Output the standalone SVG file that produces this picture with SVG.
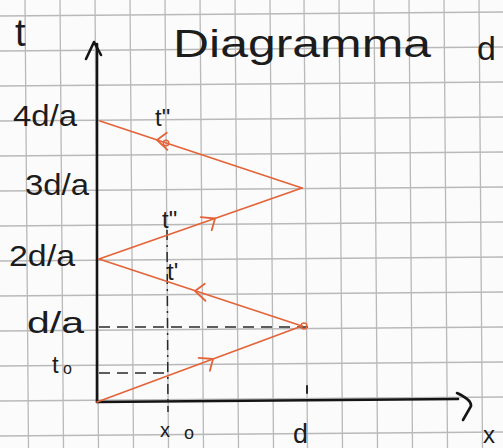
<svg xmlns="http://www.w3.org/2000/svg" width="503" height="448" viewBox="0 0 503 448">
<defs>
<style>
.grid line{stroke:#b9b9b9;stroke-width:1.3}
.ax{stroke:#151515;stroke-width:2.6;fill:none;stroke-linecap:round;stroke-linejoin:round}
.dash{stroke:#2a2a2a;stroke-width:1.5;fill:none;stroke-dasharray:11 7}
.seg{stroke:#e4643a;stroke-width:1.8;fill:none;stroke-linecap:round}
.chev{stroke:#e4643a;stroke-width:1.8;fill:none;stroke-linecap:round;stroke-linejoin:round}
.lbl{font-family:"Liberation Sans","DejaVu Sans",sans-serif;fill:#1c1c1c;font-weight:normal}
</style>
<path id="chev" d="M-13,-6 L0,0 L-7,10"/>
</defs>
<rect width="503" height="448" fill="#fbfbfb"/>
<g class="grid" id="grid">
<line x1="25" y1="0" x2="28.5" y2="448"/>
<line x1="60" y1="0" x2="63.5" y2="448"/>
<line x1="95" y1="0" x2="98.5" y2="448"/>
<line x1="130" y1="0" x2="133.5" y2="448"/>
<line x1="165" y1="0" x2="168.5" y2="448"/>
<line x1="200" y1="0" x2="203.5" y2="448"/>
<line x1="235" y1="0" x2="238.5" y2="448"/>
<line x1="270" y1="0" x2="273.5" y2="448"/>
<line x1="304" y1="0" x2="307.5" y2="448"/>
<line x1="339" y1="0" x2="342.5" y2="448"/>
<line x1="374" y1="0" x2="377.5" y2="448"/>
<line x1="409" y1="0" x2="412.5" y2="448"/>
<line x1="444" y1="0" x2="447.5" y2="448"/>
<line x1="479" y1="0" x2="482.5" y2="448"/>
<line x1="0" y1="16" x2="503" y2="12"/>
<line x1="0" y1="51" x2="503" y2="47"/>
<line x1="0" y1="86" x2="503" y2="82"/>
<line x1="0" y1="121" x2="503" y2="117"/>
<line x1="0" y1="156" x2="503" y2="152"/>
<line x1="0" y1="191" x2="503" y2="187"/>
<line x1="0" y1="226" x2="503" y2="222"/>
<line x1="0" y1="261" x2="503" y2="257"/>
<line x1="0" y1="296" x2="503" y2="292"/>
<line x1="0" y1="331" x2="503" y2="327"/>
<line x1="0" y1="366" x2="503" y2="362"/>
<line x1="0" y1="401" x2="503" y2="397"/>
<line x1="0" y1="436" x2="503" y2="432"/>
</g>
<g id="axes">
<path class="ax" d="M97,402 L97,44"/>
<path class="ax" d="M86,59 L94,42 L101,55"/>
<path class="ax" d="M97,402 L458,399"/>
<path class="ax" d="M457,393 Q472,400 471,406 L463,420"/>
<path class="ax" d="M307,386 L307,393" style="stroke-width:1.8"/>
</g>
<g id="guides">
<path class="dash" d="M99,327 L312,327"/>
<path class="dash" d="M99,373 L167,373"/>
<path class="dash" d="M167,230 L168,412" style="stroke-dasharray:10 5 2 5"/>
</g>
<g id="connectors">
<path class="seg" d="M97,402 L302,326"/>
<path class="seg" d="M302,326 L99,259"/>
<path class="seg" d="M99,259 L302,188"/>
<path class="seg" d="M302,188 L100,121"/>
<use href="#chev" class="chev" transform="translate(213,359) rotate(-20.3)"/>
<use href="#chev" class="chev" transform="translate(195,291) rotate(198.3)"/>
<use href="#chev" class="chev" transform="translate(215,218.5) rotate(-19.3)"/>
<use href="#chev" class="chev" transform="translate(157,140) rotate(198.4)"/>
<circle cx="166" cy="143" r="2.8" fill="none" stroke="#e4643a" stroke-width="1.5"/>
<circle cx="304" cy="326" r="3" fill="none" stroke="#e4643a" stroke-width="1.4"/>
</g>
<g id="labels">
<text class="lbl" x="15" y="46" font-size="38">t</text>
<text class="lbl" x="173" y="57" font-size="38" textLength="258" lengthAdjust="spacingAndGlyphs">Diagramma</text>
<text class="lbl" x="477" y="60" font-size="34">d</text>
<text class="lbl" x="13" y="126" font-size="29" textLength="64" lengthAdjust="spacingAndGlyphs">4d/a</text>
<text class="lbl" x="25" y="195" font-size="29" textLength="64" lengthAdjust="spacingAndGlyphs">3d/a</text>
<text class="lbl" x="9" y="266" font-size="29" textLength="66" lengthAdjust="spacingAndGlyphs">2d/a</text>
<text class="lbl" x="27" y="333" font-size="29" textLength="57" lengthAdjust="spacingAndGlyphs">d/a</text>
<text class="lbl" x="52" y="373" font-size="24">t</text>
<text class="lbl" x="63" y="374" font-size="16">o</text>
<text class="lbl" x="155" y="126" font-size="24">t"</text>
<text class="lbl" x="162" y="228" font-size="24">t"</text>
<text class="lbl" x="167" y="280" font-size="24">t'</text>
<text class="lbl" x="160" y="437" font-size="20">x</text>
<text class="lbl" x="184" y="439" font-size="18">o</text>
<text class="lbl" x="293" y="443" font-size="27">d</text>
<text class="lbl" x="483" y="443" font-size="24">x</text>
</g>
</svg>
